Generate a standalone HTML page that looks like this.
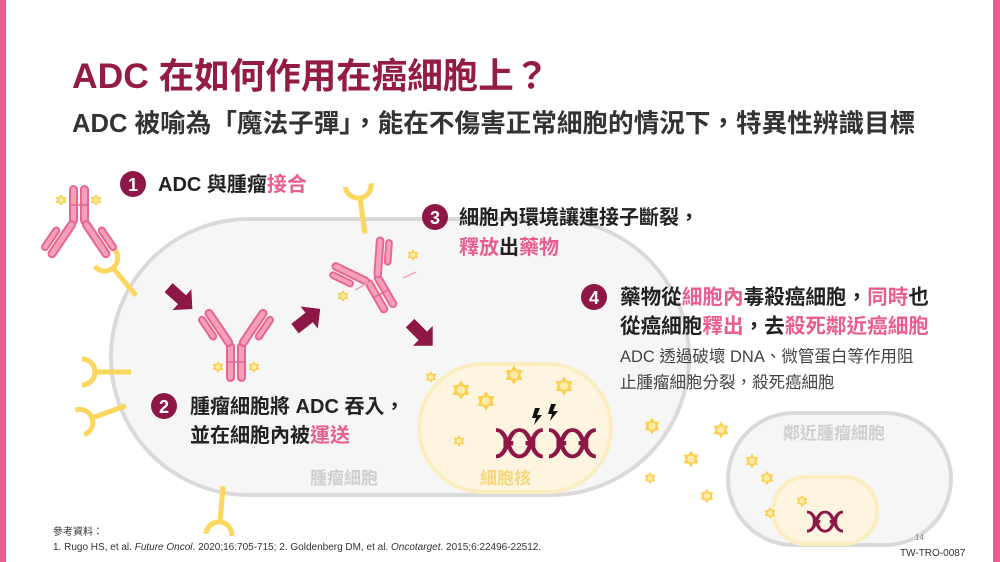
<!DOCTYPE html>
<html><head><meta charset="utf-8"><style>
html,body{margin:0;padding:0;background:#fff;}
svg{display:block;font-family:"Liberation Sans","Noto Sans CJK TC",sans-serif;}
</style></head><body>
<svg width="1000" height="562" viewBox="0 0 1000 562" xmlns="http://www.w3.org/2000/svg">
<defs>
  <g id="star"><polygon points="0,-6 1.8,-3.2 5.2,-3 4,0 5.2,3 1.8,3.2 0,6 -1.8,3.2 -5.2,3 -4,0 -5.2,-3 -1.8,-3.2" fill="#fbd04f"/><circle r="2.6" fill="#fdeaa6"/></g>
  <g id="rec" fill="none" stroke="#fcd75f" stroke-width="5" stroke-linecap="butt">
    <path d="M-13,-13 A13,13 0 0 0 13,-13"/><path d="M0,0 L0,36"/>
  </g>
  <g id="ab" fill="#f4a0b8" stroke="#e8658f" stroke-width="2">
    <rect x="-9" y="0" width="7" height="38" rx="3.5"/>
    <rect x="2" y="0" width="7" height="38" rx="3.5"/>
    <g transform="rotate(-34 -5 2)"><rect x="-9" y="-40" width="7" height="42" rx="3.5"/><rect x="-18" y="-38" width="6" height="26" rx="3"/></g>
    <g transform="rotate(34 5 2)"><rect x="2" y="-40" width="7" height="42" rx="3.5"/><rect x="12" y="-38" width="6" height="26" rx="3"/></g>
    <line x1="-9" y1="19" x2="9" y2="19" stroke-width="1.5"/>
  </g>
  <g id="dna" fill="none" stroke="#8e1745" stroke-width="3.5">
    <path d="M0,0 C10,0 8,24 18,24 C28,24 26,0 36,0 M0,24 C10,24 8,0 18,0 C28,0 26,24 36,24"/>
    <path d="M7,5 V19 M12,10 V14 M24,10 V14 M29,5 V19" stroke-width="2.5"/>
  </g>
  <g id="arr"><polygon points="-14,-6 4,-6 4,-14 18,0 4,14 4,6 -14,6" fill="#8e1745"/></g>
</defs>

<rect x="0" y="0" width="6" height="562" fill="#ea5d90"/>
<rect x="993" y="0" width="7" height="562" fill="#ea5d90"/>

<text x="72" y="88" font-size="35.5" font-weight="bold" fill="#951b47">ADC 在如何作用在癌細胞上？</text>
<text x="72" y="132" font-size="25.6" font-weight="bold" fill="#333">ADC 被喻為「魔法子彈」，能在不傷害正常細胞的情況下，特異性辨識目標</text>

<rect x="111" y="219" width="578" height="276" rx="138" fill="#f6f6f6" stroke="#dadada" stroke-width="4"/>
<rect x="419" y="364" width="192" height="128" rx="64" fill="#fdf5e0" stroke="#fcedc2" stroke-width="4"/>
<rect x="728" y="413" width="223" height="132" rx="66" fill="#f6f6f6" stroke="#dadada" stroke-width="4"/>
<rect x="773" y="477" width="104" height="67" rx="33" fill="#fdf5e0" stroke="#fcedc2" stroke-width="4"/>

<use href="#rec" transform="translate(113,268) rotate(-40)"/>
<use href="#rec" transform="translate(360,198) rotate(-8)"/>
<use href="#rec" transform="translate(95,372) rotate(-90)"/>
<use href="#rec" transform="translate(92,418) rotate(-110)"/>
<use href="#rec" transform="translate(220,522) rotate(185)"/>

<use href="#ab" transform="translate(79,224) rotate(180)"/>
<use href="#ab" transform="translate(236,343)"/>
<use href="#ab" transform="translate(372,278) rotate(-30) scale(0.95)"/>
<line x1="355" y1="290" x2="370" y2="282" stroke="#f4a0b8" stroke-width="1.5"/>
<line x1="403" y1="278" x2="416" y2="272" stroke="#f4a0b8" stroke-width="1.5"/>

<use href="#arr" transform="translate(179,297) rotate(42)"/>
<use href="#arr" transform="translate(306,320) rotate(-38)"/>
<use href="#arr" transform="translate(420,333) rotate(45)"/>

<use href="#star" transform="translate(61,200)"/>
<use href="#star" transform="translate(96,200)"/>
<use href="#star" transform="translate(218,367)"/>
<use href="#star" transform="translate(254,367)"/>
<use href="#star" transform="translate(343,296)"/>
<use href="#star" transform="translate(413,255)"/>
<use href="#star" transform="translate(431,377)"/>
<use href="#star" transform="translate(461,390) scale(1.6)"/>
<use href="#star" transform="translate(486,401) scale(1.6)"/>
<use href="#star" transform="translate(514,375) scale(1.6)"/>
<use href="#star" transform="translate(564,386) scale(1.6)"/>
<use href="#star" transform="translate(459,441)"/>
<use href="#star" transform="translate(652,426) scale(1.4)"/>
<use href="#star" transform="translate(721,430) scale(1.4)"/>
<use href="#star" transform="translate(691,459) scale(1.4)"/>
<use href="#star" transform="translate(650,478)"/>
<use href="#star" transform="translate(707,496) scale(1.2)"/>
<use href="#star" transform="translate(752,461) scale(1.2)"/>
<use href="#star" transform="translate(767,478) scale(1.2)"/>
<use href="#star" transform="translate(770,513) scale(1.0)"/>
<use href="#star" transform="translate(802,501) scale(1.0)"/>

<use href="#dna" transform="translate(496,430) scale(1.3,1.1)"/>
<use href="#dna" transform="translate(549,430) scale(1.3,1.1)"/>
<use href="#dna" transform="translate(807,512) scale(1,0.8)"/>
<path d="M535,408 l5,0 l-3,7 l5,0 l-8,10 l2,-7 l-4,0 z" fill="#111"/>
<path d="M551,404 l5,0 l-3,7 l5,0 l-8,10 l2,-7 l-4,0 z" fill="#111"/>

<g font-weight="bold" font-size="20">
<circle cx="133" cy="184" r="13" fill="#8e1745"/><text x="133" y="191" font-size="18" fill="#fff" text-anchor="middle">1</text>
<text x="158" y="191" fill="#222">ADC 與腫瘤<tspan fill="#ea5d90">接合</tspan></text>

<circle cx="435" cy="217" r="13" fill="#8e1745"/><text x="435" y="224" font-size="18" fill="#fff" text-anchor="middle">3</text>
<text x="459" y="224" fill="#222">細胞內環境讓連接子斷裂，</text>
<text x="459" y="254" fill="#ea5d90">釋放<tspan fill="#222">出</tspan>藥物</text>

<circle cx="594" cy="297" r="13" fill="#8e1745"/><text x="594" y="304" font-size="18" fill="#fff" text-anchor="middle">4</text>
<text x="620" y="304" fill="#222" font-size="20.6">藥物從<tspan fill="#ea5d90">細胞內</tspan>毒殺癌細胞，<tspan fill="#ea5d90">同時</tspan>也</text>
<text x="620" y="333" fill="#222" font-size="20.6">從癌細胞<tspan fill="#ea5d90">釋出</tspan>，去<tspan fill="#ea5d90">殺死鄰近癌細胞</tspan></text>

<circle cx="164" cy="406" r="13" fill="#8e1745"/><text x="164" y="413" font-size="18" fill="#fff" text-anchor="middle">2</text>
<text x="190" y="413" fill="#222">腫瘤細胞將 ADC 吞入，</text>
<text x="190" y="442" fill="#222">並在細胞內被<tspan fill="#ea5d90">運送</tspan></text>
</g>
<text x="620" y="362" font-size="16.5" fill="#444">ADC  透過破壞  DNA、微管蛋白等作用阻</text>
<text x="620" y="388" font-size="16.5" fill="#444">止腫瘤細胞分裂，殺死癌細胞</text>

<text x="310" y="484" font-size="17" font-weight="bold" fill="#cfcfcf">腫瘤細胞</text>
<text x="480" y="484" font-size="17" font-weight="bold" fill="#f7d77a">細胞核</text>
<text x="783" y="439" font-size="17" font-weight="bold" fill="#cfcfcf">鄰近腫瘤細胞</text>

<text x="53" y="535" font-size="10" fill="#333">參考資料：</text>
<text x="53" y="550" font-size="10" fill="#333">1. Rugo HS, et al. <tspan font-style="italic">Future Oncol</tspan>. 2020;16:705-715; 2. Goldenberg DM, et al. <tspan font-style="italic">Oncotarget</tspan>. 2015;6:22496-22512.</text>
<text x="915" y="540" font-size="8" fill="#888">14</text>
<text x="900" y="556" font-size="10" fill="#333">TW-TRO-0087</text>
</svg>
</body></html>
